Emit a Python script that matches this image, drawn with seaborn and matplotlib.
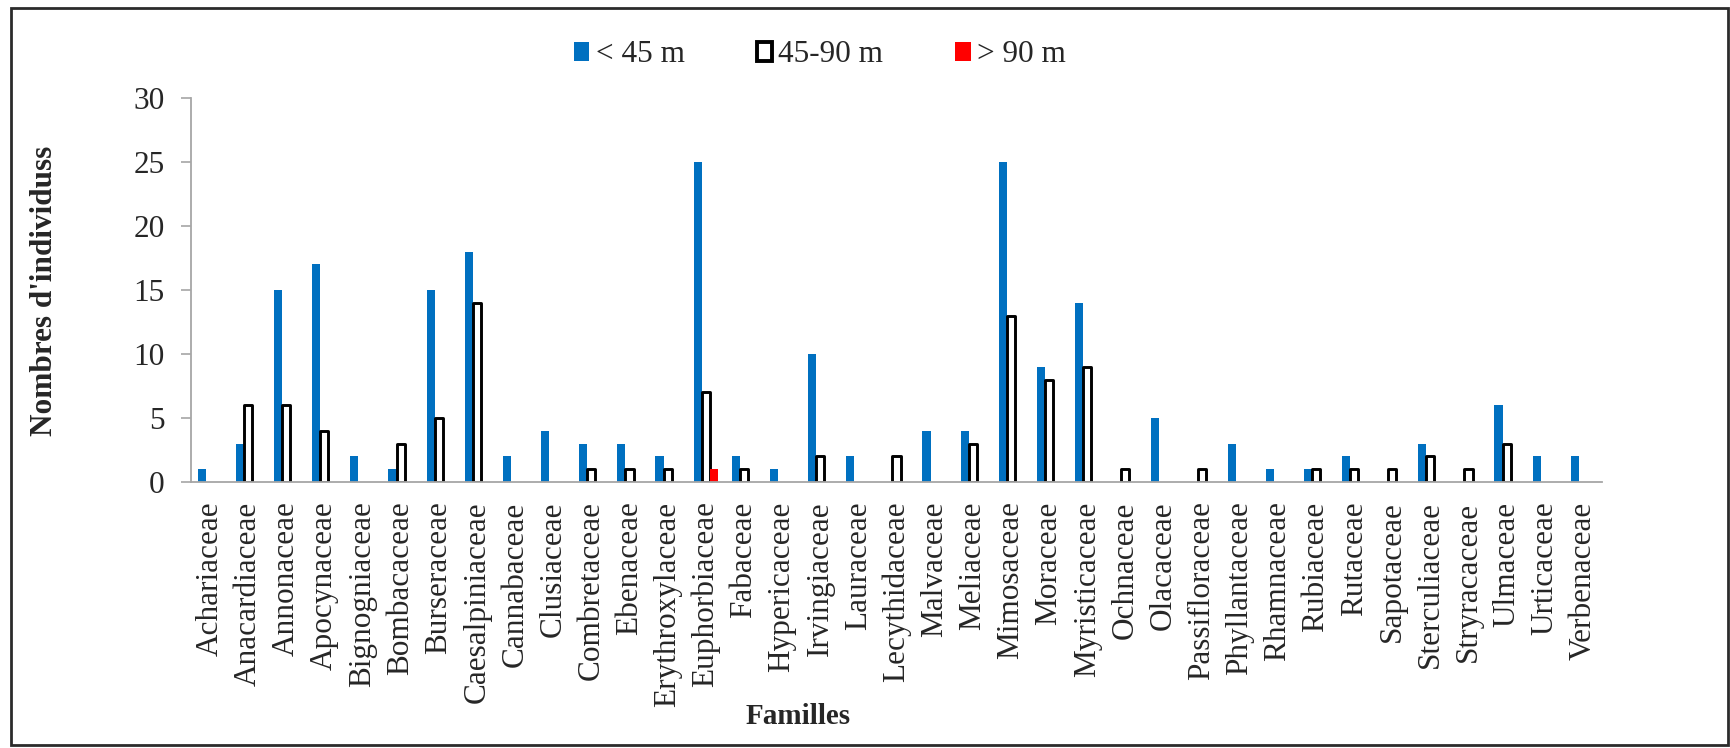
import matplotlib
matplotlib.use("Agg")
import matplotlib.pyplot as plt
from matplotlib.patches import Patch, Rectangle
import seaborn as sns
import pandas as pd

families = ["Achariaceae", "Anacardiaceae", "Annonaceae", "Apocynaceae", "Bignogniaceae",
            "Bombacaceae", "Burseraceae", "Caesalpiniaceae", "Cannabaceae", "Clusiaceae",
            "Combretaceae", "Ebenaceae", "Erythroxylaceae", "Euphorbiaceae", "Fabaceae",
            "Hypericaceae", "Irvingiaceae", "Lauraceae", "Lecythidaceae", "Malvaceae",
            "Meliaceae", "Mimosaceae", "Moraceae", "Myristicaceae", "Ochnaceae",
            "Olacaceae", "Passifloraceae", "Phyllantaceae", "Rhamnaceae", "Rubiaceae",
            "Rutaceae", "Sapotaceae", "Sterculiaceae", "Stryracaceae", "Ulmaceae",
            "Urticaceae", "Verbenaceae"]
lt45 = [1, 3, 15, 17, 2, 1, 15, 18, 2, 4, 3, 3, 2, 25, 2, 1, 10, 2, 0, 4, 4, 25, 9, 14,
        0, 5, 0, 3, 1, 1, 2, 0, 3, 0, 6, 2, 2]
m45_90 = [0, 6, 6, 4, 0, 3, 5, 14, 0, 0, 1, 1, 1, 7, 1, 0, 2, 0, 2, 0, 3, 13, 8, 9,
          1, 0, 1, 0, 0, 1, 1, 1, 2, 1, 3, 0, 0]
gt90 = [0] * 13 + [1] + [0] * 23
series_names = ["< 45 m", "45-90 m", "> 90 m"]
yticks = [0, 5, 10, 15, 20, 25, 30]

rows = []
for name, vals in zip(series_names, [lt45, m45_90, gt90]):
    for fam, v in zip(families, vals):
        rows.append({"Famille": fam, "Classe": name, "N": v})
df = pd.DataFrame(rows)

sns.set_style("white")
plt.rcParams["font.family"] = ["Liberation Serif", "DejaVu Serif"]

blue = "#0070C0"
red = "#FF0000"
palette = {"< 45 m": blue, "45-90 m": "white", "> 90 m": red}

fig = plt.figure(figsize=(17.31, 7.48), dpi=100)
ax = fig.add_axes([0.1103, 0.3556, 0.8152, 0.5134])

sns.barplot(data=df, x="Famille", y="N", hue="Classe", order=families,
            hue_order=series_names, palette=palette, width=0.64, dodge=True,
            errorbar=None, saturation=1, legend=False, ax=ax)

# style the 45-90 m bars as black outlined boxes
for cont, name in zip(ax.containers, series_names):
    for p in cont.patches:
        p.set_linewidth(0)
        if p.get_height() == 0:
            p.set_visible(False)
        elif name == "45-90 m":
            p.set_edgecolor("black")
            p.set_linewidth(2.1)
            p.set_joinstyle("round")

ax.set_xlim(-0.5, len(families) - 0.5)
ax.set_ylim(0, 30)
ax.set_yticks(yticks)
ax.set_yticklabels([str(t) for t in yticks], fontsize=22.5)

ax.set_xticks(range(len(families)))
ax.set_xticklabels(families, rotation=90, fontsize=22.5)
ax.set_xticks([i - 0.5 for i in range(len(families) + 1)], minor=True)
ax.tick_params(axis="x", which="major", length=0, pad=14)
ax.tick_params(axis="x", which="minor", length=9, width=1.2, color="#A6A6A6", direction="out")
ax.tick_params(axis="y", which="major", length=7, width=1.2, color="#A6A6A6",
               direction="out", pad=12, left=True)

for s in ["top", "right"]:
    ax.spines[s].set_visible(False)
for s in ["left", "bottom"]:
    ax.spines[s].set_color("#A6A6A6")
    ax.spines[s].set_linewidth(1.3)

ax.set_xlabel("")
ax.set_ylabel("")
fig.text(798 / 1731, 1 - 717 / 748, "Familles", fontsize=21, fontweight="bold",
         ha="center", va="center")
fig.text(45 / 1731, 1 - 291 / 748, "Nombres d'individuss", fontsize=22.5,
         fontweight="bold", rotation=90, ha="center", va="center")

handles = [Patch(facecolor=blue, edgecolor=blue, linewidth=0),
           Patch(facecolor="white", edgecolor="black", linewidth=2.8),
           Patch(facecolor=red, edgecolor=red, linewidth=0)]
fig.legend(handles, series_names, loc="center", bbox_to_anchor=(820 / 1731, 1 - 55 / 748),
           ncol=3, frameon=False, fontsize=22.5, handlelength=0.5, handleheight=0.6,
           handletextpad=0.2, columnspacing=2.3)

fig.patches.append(Rectangle((11 / 1731, 1 - 745 / 748), (1728 - 11) / 1731, (745 - 8) / 748,
                             transform=fig.transFigure, fill=False, edgecolor="#2b2b2b",
                             linewidth=2.0, zorder=10))

fig.savefig("out.png", dpi=100, facecolor="white")
